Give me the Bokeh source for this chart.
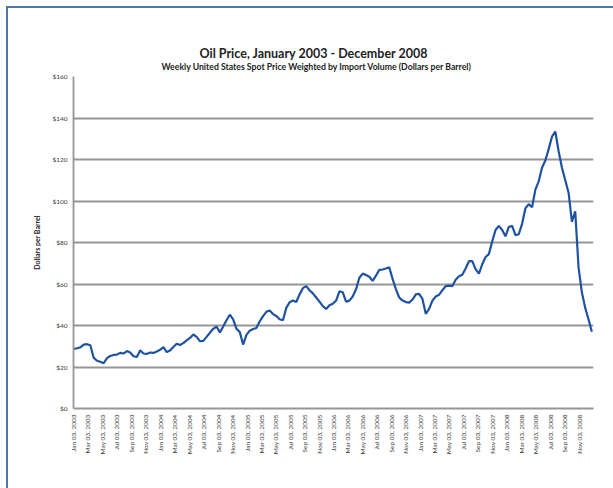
import math
import pandas as pd
from datetime import datetime
from bokeh.plotting import figure
from bokeh.models import (FixedTicker, PrintfTickFormatter, Title, DatetimeTickFormatter,
                          Range1d, ColumnDataSource)
from bokeh.embed import file_html
from bokeh.resources import INLINE

# ---- data (one value every two weeks) ----
start_date = "2003-01-03"
price = [
    28.8, 29.0, 29.5, 30.8, 31.0, 30.5, 24.5, 23.0, 22.5, 21.8,
    24.3, 25.3, 25.8, 26.0, 26.8, 26.5, 27.7, 27.0, 25.2, 24.8,
    28.0, 26.5, 26.3, 27.0, 26.8, 27.5, 28.3, 29.6, 27.2, 28.0,
    29.6, 31.2, 30.6, 31.5, 32.8, 34.0, 35.7, 34.5, 32.5, 32.6,
    34.5, 36.5, 38.4, 39.5, 36.6, 39.5, 42.5, 45.2, 43.0, 38.4,
    36.8, 30.8, 35.5, 37.5, 38.3, 38.8, 42.0, 44.5, 46.6, 47.2,
    45.5, 44.6, 43.0, 42.5, 48.5, 51.2, 52.0, 51.3, 55.0, 58.0,
    59.0, 57.0, 55.5, 53.5, 51.5, 49.3, 48.0, 49.8, 50.5, 52.0,
    56.5, 56.0, 51.5, 52.0, 54.0, 57.5, 63.0, 65.0, 64.3, 63.5,
    61.5, 64.0, 66.8, 67.0, 67.5, 68.0, 62.5, 57.5, 53.5, 52.0,
    51.3, 51.0, 52.5, 55.0, 55.2, 52.8, 45.6, 48.0, 52.0, 54.0,
    54.8, 57.0, 59.0, 59.2, 59.0, 62.0, 63.7, 64.5, 67.5, 71.0,
    71.0, 67.2, 65.0, 69.5, 73.0, 74.4, 80.5, 86.0, 88.0, 86.0,
    83.0, 87.5, 88.0, 83.5, 84.0, 89.0, 96.5, 98.5, 97.0, 105.5,
    109.5, 116.0, 119.5, 125.0, 131.0, 133.5, 124.0, 116.0, 110.0, 104.0,
    90.0, 95.0, 68.0, 56.0, 48.5, 43.0, 37.0,
]
tick_years = [2003, 2004, 2005, 2006, 2007, 2008]
tick_months = [1, 3, 5, 7, 9, 11]
y_ticks = [0, 20, 40, 60, 80, 100, 120, 140, 160]

title_text = "Oil Price, January 2003 - December 2008"
subtitle_text = "Weekly United States Spot Price Weighted by Import Volume (Dollars per Barrel)"
y_label = "Dollars per Barrel"

dates = pd.date_range(start_date, periods=len(price), freq="14D")
src = ColumnDataSource(dict(date=dates, price=price))
tick_dates = [datetime(y, m, 3) for y in tick_years for m in tick_months]
tick_ms = [(d - datetime(1970, 1, 1)).total_seconds() * 1000.0 for d in tick_dates]

FONT = "Lato"
TXT = "#3a3a3a"
GRID = "#969696"
FRAME = "#4f79ad"

p = figure(width=613, height=488, output_backend="svg", toolbar_location=None,
           x_axis_type="datetime", title=None,
           x_range=Range1d(datetime(2003, 1, 2), datetime(2009, 1, 2)),
           y_range=Range1d(0, 160),
           min_border_left=73, min_border_right=20, min_border_top=76, min_border_bottom=80)

# outer chart frame: left and top edges, drawn behind a transparent border area
p.border_fill_color = None
p.background_fill_color = "white"
p.styles = {
    "background": (f"linear-gradient({FRAME},{FRAME}) 6px 6px / 2px 100% no-repeat, "
                   f"linear-gradient({FRAME},{FRAME}) 6px 6px / 100% 2px no-repeat, white"),
}

p.line("date", "price", source=src, line_color="#1f52a0", line_width=2.2)

sub = Title(text=subtitle_text, align="left", offset=88, text_font=FONT,
            text_font_size="8.7px", text_font_style="bold", text_color="#222222",
            standoff=9)
p.add_layout(sub, "above")
main = Title(text=title_text, align="left", offset=126, text_font=FONT,
             text_font_size="12.5px", text_font_style="bold", text_color="#222222",
             standoff=-13)
p.add_layout(main, "above")

p.outline_line_color = None
p.xgrid.grid_line_color = None
p.ygrid.grid_line_color = GRID
p.ygrid.grid_line_width = 1.8

p.yaxis.ticker = FixedTicker(ticks=y_ticks)
p.yaxis.formatter = PrintfTickFormatter(format="$%d")
p.xaxis.ticker = FixedTicker(ticks=tick_ms)
fmt = "%b %d, %Y"
p.xaxis.formatter = DatetimeTickFormatter(microseconds=fmt, milliseconds=fmt, seconds=fmt,
                                          minsec=fmt, minutes=fmt, hourmin=fmt, hours=fmt,
                                          days=fmt, months=fmt, years=fmt)
p.xaxis.major_label_orientation = math.pi / 2

for ax in (p.xaxis, p.yaxis):
    ax.axis_line_color = GRID
    ax.axis_line_width = 1.8
    ax.major_tick_line_color = None
    ax.minor_tick_line_color = None
    ax.major_tick_out = 0
    ax.major_tick_in = 0
    ax.minor_tick_out = 0
    ax.major_label_text_font = FONT
    ax.major_label_text_font_size = "6.5px"
    ax.major_label_text_color = TXT
p.yaxis.major_label_standoff = 6
p.xaxis.major_label_standoff = 6

p.yaxis.axis_label = y_label
p.yaxis.axis_label_text_font = FONT
p.yaxis.axis_label_text_font_size = "7px"
p.yaxis.axis_label_text_font_style = "bold"
p.yaxis.axis_label_text_color = "#222222"
p.yaxis.axis_label_standoff = 8

open("out.html", "w").write(file_html(p, INLINE))
